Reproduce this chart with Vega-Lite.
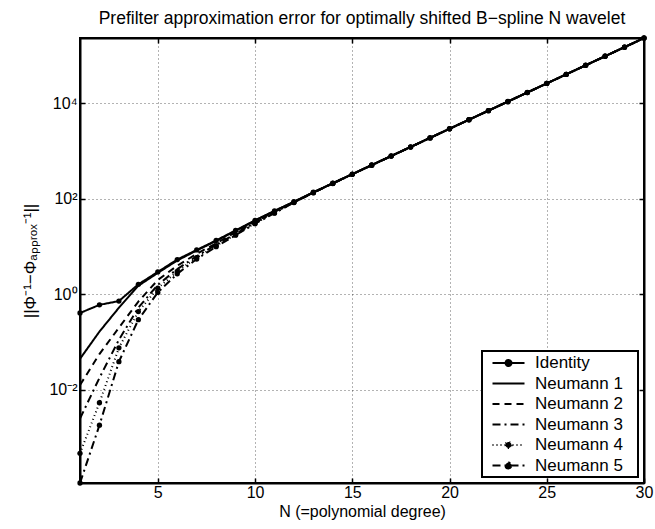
{
  "$schema": "https://vega.github.io/schema/vega-lite/v6.json",
  "width": 564,
  "height": 445,
  "autosize": "none",
  "padding": {"left": 80, "top": 38, "right": 11, "bottom": 46},
  "background": "white",
  "config": {
    "font": "Liberation Sans",
    "view": {"stroke": "black", "strokeWidth": 2},
    "axis": {"labelFont": "Liberation Sans", "titleFont": "Liberation Sans", "labelFontSize": 16, "titleFontSize": 16, "titleFontWeight": "normal", "labelColor": "black", "titleColor": "black", "domainColor": "black", "domainWidth": 2, "tickColor": "black", "tickWidth": 1.5, "gridColor": "#000000", "gridOpacity": 0.6, "gridDash": [1, 3], "gridWidth": 1}
  },
  "title": {"text": "Prefilter approximation error for optimally shifted B−spline N wavelet", "fontSize": 17.5, "fontWeight": "normal", "font": "Liberation Sans", "color": "black", "offset": 8},
  "data": {"values": [
    {"N":1,"series":"Identity","v":0.407},{"N":2,"series":"Identity","v":0.603},{"N":3,"series":"Identity","v":0.724},{"N":4,"series":"Identity","v":1.622},{"N":5,"series":"Identity","v":2.951},{"N":6,"series":"Identity","v":5.37},{"N":7,"series":"Identity","v":8.511},{"N":8,"series":"Identity","v":13.49},{"N":9,"series":"Identity","v":21.88},{"N":10,"series":"Identity","v":35.48},{"N":11,"series":"Identity","v":56.23},{"N":12,"series":"Identity","v":87.1},{"N":13,"series":"Identity","v":138},{"N":14,"series":"Identity","v":213.8},{"N":15,"series":"Identity","v":331.1},{"N":16,"series":"Identity","v":512.9},{"N":17,"series":"Identity","v":794.3},{"N":18,"series":"Identity","v":1230},{"N":19,"series":"Identity","v":1905},{"N":20,"series":"Identity","v":2951},{"N":21,"series":"Identity","v":4571},{"N":22,"series":"Identity","v":7079},{"N":23,"series":"Identity","v":10960},{"N":24,"series":"Identity","v":16980},{"N":25,"series":"Identity","v":26300},{"N":26,"series":"Identity","v":40740},{"N":27,"series":"Identity","v":63100},{"N":28,"series":"Identity","v":97720},{"N":29,"series":"Identity","v":151400},{"N":30,"series":"Identity","v":234400},
    {"N":1,"series":"Neumann 1","v":0.0447},{"N":2,"series":"Neumann 1","v":0.166},{"N":3,"series":"Neumann 1","v":0.525},{"N":4,"series":"Neumann 1","v":1.514},{"N":5,"series":"Neumann 1","v":2.818},{"N":6,"series":"Neumann 1","v":5.129},{"N":7,"series":"Neumann 1","v":8.318},{"N":8,"series":"Neumann 1","v":13.18},{"N":9,"series":"Neumann 1","v":21.38},{"N":10,"series":"Neumann 1","v":35.1},{"N":11,"series":"Neumann 1","v":55.6},{"N":12,"series":"Neumann 1","v":86.5},{"N":13,"series":"Neumann 1","v":137},{"N":14,"series":"Neumann 1","v":212.5},{"N":15,"series":"Neumann 1","v":329},{"N":16,"series":"Neumann 1","v":510},{"N":17,"series":"Neumann 1","v":790},{"N":18,"series":"Neumann 1","v":1223},{"N":19,"series":"Neumann 1","v":1895},{"N":20,"series":"Neumann 1","v":2935},{"N":21,"series":"Neumann 1","v":4550},{"N":22,"series":"Neumann 1","v":7045},{"N":23,"series":"Neumann 1","v":10900},{"N":24,"series":"Neumann 1","v":16900},{"N":25,"series":"Neumann 1","v":26180},{"N":26,"series":"Neumann 1","v":40560},{"N":27,"series":"Neumann 1","v":62820},{"N":28,"series":"Neumann 1","v":97300},{"N":29,"series":"Neumann 1","v":150700},{"N":30,"series":"Neumann 1","v":233400},
    {"N":1,"series":"Neumann 2","v":0.0126},{"N":2,"series":"Neumann 2","v":0.0562},{"N":3,"series":"Neumann 2","v":0.2},{"N":4,"series":"Neumann 2","v":0.708},{"N":5,"series":"Neumann 2","v":1.995},{"N":6,"series":"Neumann 2","v":3.981},{"N":7,"series":"Neumann 2","v":7.079},{"N":8,"series":"Neumann 2","v":11.75},{"N":9,"series":"Neumann 2","v":19.95},{"N":10,"series":"Neumann 2","v":33.11},{"N":11,"series":"Neumann 2","v":53.7},{"N":12,"series":"Neumann 2","v":85.5},{"N":13,"series":"Neumann 2","v":136},{"N":14,"series":"Neumann 2","v":211.5},{"N":15,"series":"Neumann 2","v":328},{"N":16,"series":"Neumann 2","v":509},{"N":17,"series":"Neumann 2","v":789},{"N":18,"series":"Neumann 2","v":1222},{"N":19,"series":"Neumann 2","v":1893},{"N":20,"series":"Neumann 2","v":2933},{"N":21,"series":"Neumann 2","v":4548},{"N":22,"series":"Neumann 2","v":7040},{"N":23,"series":"Neumann 2","v":10900},{"N":24,"series":"Neumann 2","v":16890},{"N":25,"series":"Neumann 2","v":26170},{"N":26,"series":"Neumann 2","v":40540},{"N":27,"series":"Neumann 2","v":62800},{"N":28,"series":"Neumann 2","v":97250},{"N":29,"series":"Neumann 2","v":150700},{"N":30,"series":"Neumann 2","v":233300},
    {"N":1,"series":"Neumann 3","v":0.00251},{"N":2,"series":"Neumann 3","v":0.0178},{"N":3,"series":"Neumann 3","v":0.112},{"N":4,"series":"Neumann 3","v":0.525},{"N":5,"series":"Neumann 3","v":1.585},{"N":6,"series":"Neumann 3","v":3.388},{"N":7,"series":"Neumann 3","v":6.31},{"N":8,"series":"Neumann 3","v":10.96},{"N":9,"series":"Neumann 3","v":18.62},{"N":10,"series":"Neumann 3","v":31.62},{"N":11,"series":"Neumann 3","v":52.48},{"N":12,"series":"Neumann 3","v":85},{"N":13,"series":"Neumann 3","v":135.5},{"N":14,"series":"Neumann 3","v":211},{"N":15,"series":"Neumann 3","v":327.5},{"N":16,"series":"Neumann 3","v":508},{"N":17,"series":"Neumann 3","v":788},{"N":18,"series":"Neumann 3","v":1221},{"N":19,"series":"Neumann 3","v":1892},{"N":20,"series":"Neumann 3","v":2932},{"N":21,"series":"Neumann 3","v":4546},{"N":22,"series":"Neumann 3","v":7038},{"N":23,"series":"Neumann 3","v":10895},{"N":24,"series":"Neumann 3","v":16885},{"N":25,"series":"Neumann 3","v":26165},{"N":26,"series":"Neumann 3","v":40535},{"N":27,"series":"Neumann 3","v":62790},{"N":28,"series":"Neumann 3","v":97240},{"N":29,"series":"Neumann 3","v":150650},{"N":30,"series":"Neumann 3","v":233250},
    {"N":1,"series":"Neumann 4","v":0.000468},{"N":2,"series":"Neumann 4","v":0.00537},{"N":3,"series":"Neumann 4","v":0.0759},{"N":4,"series":"Neumann 4","v":0.437},{"N":5,"series":"Neumann 4","v":1.349},{"N":6,"series":"Neumann 4","v":3.02},{"N":7,"series":"Neumann 4","v":5.888},{"N":8,"series":"Neumann 4","v":10.47},{"N":9,"series":"Neumann 4","v":17.78},{"N":10,"series":"Neumann 4","v":30.9},{"N":11,"series":"Neumann 4","v":51.29},{"N":12,"series":"Neumann 4","v":84.5},{"N":13,"series":"Neumann 4","v":135},{"N":14,"series":"Neumann 4","v":210.5},{"N":15,"series":"Neumann 4","v":327},{"N":16,"series":"Neumann 4","v":507.5},{"N":17,"series":"Neumann 4","v":787.5},{"N":18,"series":"Neumann 4","v":1220},{"N":19,"series":"Neumann 4","v":1891},{"N":20,"series":"Neumann 4","v":2931},{"N":21,"series":"Neumann 4","v":4545},{"N":22,"series":"Neumann 4","v":7036},{"N":23,"series":"Neumann 4","v":10890},{"N":24,"series":"Neumann 4","v":16880},{"N":25,"series":"Neumann 4","v":26160},{"N":26,"series":"Neumann 4","v":40530},{"N":27,"series":"Neumann 4","v":62780},{"N":28,"series":"Neumann 4","v":97230},{"N":29,"series":"Neumann 4","v":150640},{"N":30,"series":"Neumann 4","v":233240},
    {"N":1,"series":"Neumann 5","v":0.000112},{"N":2,"series":"Neumann 5","v":0.00182},{"N":3,"series":"Neumann 5","v":0.0389},{"N":4,"series":"Neumann 5","v":0.295},{"N":5,"series":"Neumann 5","v":1.096},{"N":6,"series":"Neumann 5","v":2.692},{"N":7,"series":"Neumann 5","v":5.495},{"N":8,"series":"Neumann 5","v":10.0},{"N":9,"series":"Neumann 5","v":17.38},{"N":10,"series":"Neumann 5","v":30.2},{"N":11,"series":"Neumann 5","v":50.12},{"N":12,"series":"Neumann 5","v":84},{"N":13,"series":"Neumann 5","v":134.5},{"N":14,"series":"Neumann 5","v":210},{"N":15,"series":"Neumann 5","v":326.5},{"N":16,"series":"Neumann 5","v":507},{"N":17,"series":"Neumann 5","v":787},{"N":18,"series":"Neumann 5","v":1219},{"N":19,"series":"Neumann 5","v":1890},{"N":20,"series":"Neumann 5","v":2930},{"N":21,"series":"Neumann 5","v":4544},{"N":22,"series":"Neumann 5","v":7035},{"N":23,"series":"Neumann 5","v":10888},{"N":24,"series":"Neumann 5","v":16878},{"N":25,"series":"Neumann 5","v":26158},{"N":26,"series":"Neumann 5","v":40528},{"N":27,"series":"Neumann 5","v":62778},{"N":28,"series":"Neumann 5","v":97228},{"N":29,"series":"Neumann 5","v":150638},{"N":30,"series":"Neumann 5","v":233238}
  ]},
  "layer": [
    {
      "mark": {"type": "line", "color": "black", "clip": true},
      "encoding": {
        "x": {"field": "N", "type": "quantitative", "scale": {"domain": [1, 30], "nice": false, "zero": false},
              "axis": {"values": [5, 10, 15, 20, 25, 30], "title": "N (=polynomial degree)", "tickSize": -5, "labelPadding": 6, "titlePadding": 3, "grid": true, "labelFlush": false}},
        "y": {"field": "v", "type": "quantitative", "scale": {"type": "log", "domain": [0.000112, 234400], "nice": false},
              "axis": {"values": [0.01, 1, 100, 10000], "title": "||Φ⁻¹−Φₐₚₚᵣₒₓ⁻¹||", "tickSize": -5, "labelPadding": 8, "titlePadding": 9, "titleFontSize": 17, "grid": true,
                       "labelExpr": "datum.value < 0.1 ? '10⁻²' : datum.value < 10 ? '10⁰' : datum.value < 1000 ? '10²' : '10⁴'"}},
        "strokeDash": {"field": "series", "type": "nominal",
          "scale": {"domain": ["Identity", "Neumann 1", "Neumann 2", "Neumann 3", "Neumann 4", "Neumann 5"],
                    "range": [[1, 0], [1, 0], [7, 5], [8, 4, 2, 4], [1, 3], [8, 4, 2, 4]]},
          "legend": {"title": null, "orient": "bottom-right", "offset": 6, "strokeColor": "black", "fillColor": "white",
                     "padding": 3, "symbolOffset": 14.5, "labelFontSize": 17, "labelFont": "Liberation Sans", "labelColor": "black",
                     "symbolType": "M-2,0L2,0",
                     "symbolSize": 256, "symbolStrokeWidth": 2, "symbolStrokeColor": "black", "rowPadding": 3.5, "labelOffset": 17.5,
                     "labelExpr": "datum.label + '\u2800'",
                     "encode": {
                       "legend": {"update": {"strokeWidth": {"value": 2}}},
                       "symbols": {"update": {
                        "shape": {"signal": "(datum.value === 'Identity' || datum.value === 'Neumann 4' || datum.value === 'Neumann 5') ? 'M-2,0L2,0M-0.375,0A0.375,0.375,0,1,0,0.375,0A0.375,0.375,0,1,0,-0.375,0' : 'M-2,0L2,0'"},
                        "fill": {"value": "black"},
                        "stroke": {"value": "black"},
                        "strokeWidth": {"signal": "datum.value === 'Neumann 4' ? 1.2 : 2"}}}}}},
        "strokeWidth": {"field": "series", "type": "nominal",
          "scale": {"domain": ["Identity", "Neumann 1", "Neumann 2", "Neumann 3", "Neumann 4", "Neumann 5"], "range": [2, 2, 2, 1.6, 1.1, 2]},
          "legend": null}
      }
    },
    {
      "transform": [{"filter": {"field": "series", "oneOf": ["Identity", "Neumann 4", "Neumann 5"]}}],
      "mark": {"type": "point", "filled": true, "color": "black", "size": 28, "opacity": 1, "clip": false},
      "encoding": {
        "x": {"field": "N", "type": "quantitative", "axis": {"orient": "top", "labels": false, "title": null, "grid": false, "tickSize": -5, "values": [5, 10, 15, 20, 25]}},
        "y": {"field": "v", "type": "quantitative", "axis": {"orient": "right", "labels": false, "title": null, "grid": false, "tickSize": -5, "values": [0.01, 1, 100, 10000]}}
      }
    }
  ],
  "resolve": {"axis": {"x": "independent", "y": "independent"}}
}
